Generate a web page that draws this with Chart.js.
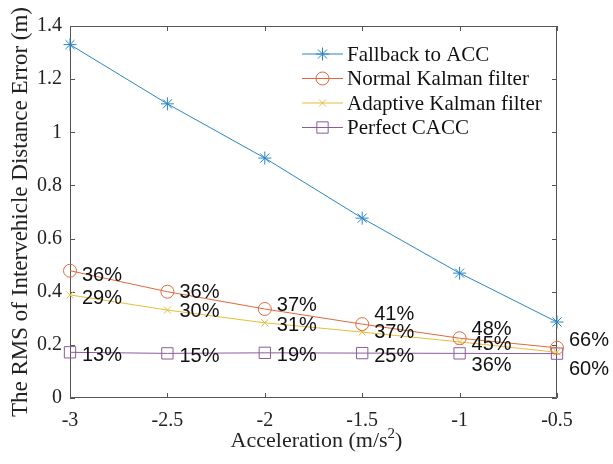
<!DOCTYPE html>
<html>
<head>
<meta charset="utf-8">
<script src="https://cdn.jsdelivr.net/npm/chart.js@4/dist/chart.umd.min.js"></script>
<style>
  html, body { margin: 0; padding: 0; background: #fff; }
  #wrap { width: 613px; height: 464px; }
</style>
</head>
<body>
<div id="wrap"><canvas id="rmsChart"></canvas></div>
<script>
// acceleration steps and RMS distance error (m) per controller
const accel = [-3, -2.5, -2, -1.5, -1, -0.5];
const fallbackAcc = [1.330, 1.107, 0.903, 0.677, 0.470, 0.286];
const normalKf = [0.479, 0.400, 0.335, 0.278, 0.225, 0.189];
const adaptiveKf = [0.388, 0.331, 0.283, 0.248, 0.211, 0.172];
const perfectCacc = [0.172, 0.168, 0.170, 0.169, 0.168, 0.167];

// ratio to the fallback error, printed beside each point
const normalPct = ['36%', '36%', '37%', '41%', '48%', '66%'];
const adaptivePct = ['29%', '30%', '31%', '37%', '45%', '60%'];
const perfectPct = ['13%', '15%', '19%', '25%', '36%', ''];

const yTicks = [0, 0.2, 0.4, 0.6, 0.8, 1, 1.2, 1.4];

const serif = '"Liberation Serif", "Times New Roman", serif';
const sans = '"Liberation Sans", Arial, sans-serif';
const axisColor = '#555555';

function pts(vals) {
    return vals.map((v, i) => ({ x: accel[i], y: v }));
}

// plain number text: -3, -2.5, 1, 0.2
function plain(v) {
    return String(Math.round(v * 10) / 10);
}

// vertical nudges (px) for the percentage text of each series
const pctShift = {
    1: [5, 1, -4, -10, -9, -7],
    2: [4, 1, 3, 0, 3, 17],
    3: [3, 3, 3, 3, 12, 0]
};

const pctLabels = {
    id: 'pctLabels',
    afterDatasetsDraw(chart) {
        const ctx = chart.ctx;
        ctx.save();
        ctx.font = '20px ' + sans;
        ctx.fillStyle = '#111';
        ctx.textBaseline = 'middle';
        ctx.textAlign = 'left';
        chart.data.datasets.forEach((ds, di) => {
            if (!ds.pct) return;
            const meta = chart.getDatasetMeta(di);
            meta.data.forEach((p, i) => {
                if (!ds.pct[i]) return;
                ctx.fillText(ds.pct[i], p.x + 12, p.y + pctShift[di][i]);
            });
        });
        ctx.restore();
    }
};

// box around the plot with inward ticks on all four sides
const axesBox = {
    id: 'axesBox',
    beforeDatasetsDraw(chart) {
        const { ctx, chartArea: a, scales } = chart;
        ctx.save();
        ctx.strokeStyle = axisColor;
        ctx.lineWidth = 1;
        ctx.beginPath();
        ctx.rect(a.left + 0.5, a.top + 0.5, a.right - a.left - 1, a.bottom - a.top - 1);
        const len = 5;
        scales.x.ticks.forEach(t => {
            const x = Math.round(scales.x.getPixelForValue(t.value)) + 0.5;
            ctx.moveTo(x, a.bottom); ctx.lineTo(x, a.bottom - len);
            ctx.moveTo(x, a.top); ctx.lineTo(x, a.top + len);
        });
        scales.y.ticks.forEach(t => {
            const y = Math.round(scales.y.getPixelForValue(t.value)) + 0.5;
            ctx.moveTo(a.left, y); ctx.lineTo(a.left + len, y);
            ctx.moveTo(a.right, y); ctx.lineTo(a.right - len, y);
        });
        ctx.stroke();
        ctx.restore();
    }
};

// x axis title, drawn by hand so the exponent sits raised
const xTitle = {
    id: 'xTitle',
    afterDraw(chart) {
        const ctx = chart.ctx;
        const a = chart.chartArea;
        const main = 'Acceleration (m/s', sup = '2', tail = ')';
        ctx.save();
        ctx.fillStyle = '#222';
        ctx.textBaseline = 'alphabetic';
        ctx.font = '22px ' + serif;
        const wMain = ctx.measureText(main).width;
        const wTail = ctx.measureText(tail).width;
        ctx.font = '15px ' + serif;
        const wSup = ctx.measureText(sup).width;
        let x = (a.left + a.right) / 2 + 3 - (wMain + wSup + wTail) / 2;
        const base = 447;
        ctx.font = '22px ' + serif;
        ctx.fillText(main, x, base);
        x += wMain;
        ctx.font = '15px ' + serif;
        ctx.fillText(sup, x, base - 9);
        x += wSup;
        ctx.font = '22px ' + serif;
        ctx.fillText(tail, x, base);
        ctx.restore();
    }
};

// legend: line sample with marker, then the series name
const lineLegend = {
    id: 'lineLegend',
    afterDraw(chart) {
        const ctx = chart.ctx;
        const x0 = 302, x1 = 343, y0 = 54, step = 24.5;
        ctx.save();
        chart.data.datasets.forEach((ds, i) => {
            const y = y0 + i * step;
            ctx.strokeStyle = ds.borderColor;
            ctx.lineWidth = 1;
            ctx.beginPath();
            ctx.moveTo(x0, y); ctx.lineTo(x1, y);
            ctx.stroke();
            ctx.fillStyle = 'rgba(0,0,0,0)';
            Chart.helpers.drawPoint(ctx, {
                pointStyle: ds.pointStyle,
                radius: ds.pointRadius,
                borderWidth: 1,
                rotation: 0
            }, (x0 + x1) / 2, y);
            ctx.fillStyle = '#111';
            ctx.font = '21px ' + serif;
            ctx.textBaseline = 'middle';
            ctx.fillText(ds.label, x1 + 4, y + 1);
        });
        ctx.restore();
    }
};

function series(label, vals, color, style, radius, pct) {
    return {
        label: label,
        data: pts(vals),
        pct: pct,
        borderColor: color,
        backgroundColor: color,
        borderWidth: 1,
        pointStyle: style,
        pointRadius: radius,
        pointBorderColor: color,
        pointBackgroundColor: 'rgba(0,0,0,0)',
        pointBorderWidth: 1,
        tension: 0,
        clip: false
    };
}

new Chart(document.getElementById('rmsChart'), {
    type: 'line',
    data: {
        datasets: [
            series('Fallback to ACC', fallbackAcc, '#2a84c6', 'star', 6.5, null),
            series('Normal Kalman filter', normalKf, '#e0693c', 'circle', 6.5, normalPct),
            series('Adaptive Kalman filter', adaptiveKf, '#e6bd3a', 'crossRot', 5, adaptivePct),
            series('Perfect CACC', perfectCacc, '#8e5a9e', 'rect', 8, perfectPct)
        ]
    },
    options: {
        responsive: true,
        maintainAspectRatio: false,
        animation: false,
        layout: { padding: { top: 26, right: 56, left: 0, bottom: 0 } },
        plugins: {
            legend: { display: false },
            tooltip: { enabled: false }
        },
        scales: {
            x: {
                type: 'linear',
                min: accel[0],
                max: accel[accel.length - 1],
                grid: { display: false, drawTicks: false },
                border: { display: false },
                afterBuildTicks(scale) { scale.ticks = accel.map(v => ({ value: v })); },
                ticks: { padding: 11, color: '#222', font: { family: serif, size: 20 }, callback: plain },
                title: { display: false },
                afterFit(scale) { scale.height = 66; }
            },
            y: {
                min: 0,
                max: 1.4,
                grid: { display: false, drawTicks: false },
                border: { display: false },
                afterBuildTicks(scale) { scale.ticks = yTicks.map(v => ({ value: v })); },
                ticks: { padding: 8, color: '#222', font: { family: serif, size: 20 }, callback: plain },
                title: {
                    display: true,
                    text: 'The RMS of Intervehicle Distance Error (m)',
                    color: '#222',
                    font: { family: serif, size: 23 },
                    padding: { top: 7, bottom: 0 }
                },
                afterFit(scale) { scale.width = 70; }
            }
        }
    },
    plugins: [axesBox, pctLabels, lineLegend, xTitle]
});
</script>
</body>
</html>
